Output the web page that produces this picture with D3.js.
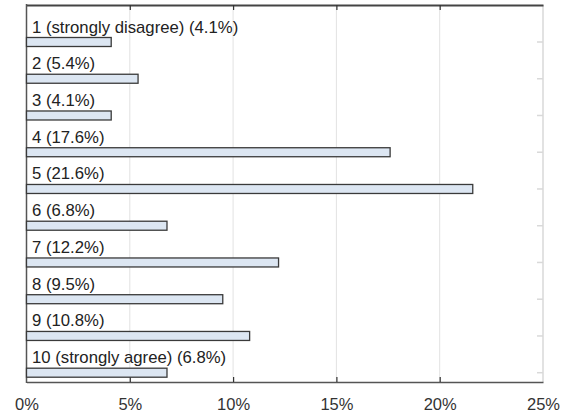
<!DOCTYPE html>
<html>
<head>
<meta charset="utf-8">
<script src="https://cdn.jsdelivr.net/npm/d3@7/dist/d3.min.js"></script>
<style>
  html, body { margin: 0; padding: 0; background: #fff; }
  svg { display: block; }
  text { font-family: "Liberation Sans", Arial, sans-serif; }
</style>
</head>
<body>
<svg id="chart" width="570" height="414"></svg>
<script>
// Survey response distribution (percent of respondents)
const categories = [
  "1 (strongly disagree)", "2", "3", "4", "5",
  "6", "7", "8", "9", "10 (strongly agree)"
];
const percents = [4.1, 5.4, 4.1, 17.6, 21.6, 6.8, 12.2, 9.5, 10.8, 6.8];
const xTicks = [0, 5, 10, 15, 20, 25];

const svg = d3.select("#chart");
const plot = { left: 26.5, right: 543, top: 5, bottom: 382 };

const x = d3.scaleLinear().domain([0, 25]).range([plot.left, plot.right]);
const y = d3.scalePoint().domain(categories).range([42, 372.7]);

// vertical gridlines
svg.append("g")
  .selectAll("line")
  .data(xTicks.slice(1, -1))
  .join("line")
  .attr("x1", d => x(d)).attr("x2", d => x(d))
  .attr("y1", plot.top).attr("y2", plot.bottom)
  .attr("stroke", "#e2e2e2").attr("stroke-width", 1);

// right frame edge (light)
svg.append("line")
  .attr("x1", plot.right).attr("x2", plot.right)
  .attr("y1", plot.top).attr("y2", plot.bottom)
  .attr("stroke", "#d9d9d9").attr("stroke-width", 1.5);

// small category ticks on both sides
const catTicks = svg.append("g");
catTicks.selectAll("line.r")
  .data(categories)
  .join("line").attr("class", "r")
  .attr("x1", plot.right - 6).attr("x2", plot.right)
  .attr("y1", d => y(d)).attr("y2", d => y(d))
  .attr("stroke", "#d9d9d9").attr("stroke-width", 1.5);
catTicks.selectAll("line.l")
  .data(categories)
  .join("line").attr("class", "l")
  .attr("x1", plot.left).attr("x2", plot.left + 4)
  .attr("y1", d => y(d)).attr("y2", d => y(d))
  .attr("stroke", "#d9d9d9").attr("stroke-width", 1.5);

// top and bottom axes with inward ticks
const topAxis = d3.axisTop(x).tickValues(xTicks).tickSizeInner(-5).tickSizeOuter(0).tickFormat("");
const gTop = svg.append("g").attr("transform", `translate(0,${plot.top})`).call(topAxis);
gTop.select(".domain").attr("stroke", "#444").attr("stroke-width", 2);
gTop.selectAll(".tick line").attr("stroke", "#333").attr("stroke-width", 1.2);

const bottomAxis = d3.axisBottom(x).tickValues(xTicks).tickSizeInner(-5).tickSizeOuter(0)
  .tickFormat(d => d + "%");
const gBot = svg.append("g").attr("transform", `translate(0,${plot.bottom})`).call(bottomAxis);
gBot.select(".domain").attr("stroke", "#555").attr("stroke-width", 1.5);
gBot.selectAll(".tick line").attr("stroke", "#333").attr("stroke-width", 1.2);
gBot.selectAll(".tick text")
  .attr("y", 28).attr("dy", 0)
  .attr("fill", "#333")
  .style("font-size", "16.5px")
  .style("font-family", "'Liberation Sans', Arial, sans-serif");
gBot.selectAll(".tick").filter(d => d === 0 || d === 25).select("line").remove();
gTop.selectAll(".tick").filter(d => d === 0 || d === 25).select("line").remove();

// left frame edge
svg.append("line")
  .attr("x1", plot.left).attr("x2", plot.left)
  .attr("y1", plot.top - 1).attr("y2", plot.bottom + 1)
  .attr("stroke", "#555").attr("stroke-width", 1.5);

// bars
svg.append("g")
  .selectAll("rect")
  .data(categories)
  .join("rect")
  .attr("x", plot.left)
  .attr("y", d => y(d) - 4.5)
  .attr("width", (d, i) => x(percents[i]) - x(0))
  .attr("height", 9)
  .attr("fill", "#dce6f2")
  .attr("stroke", "#3a3a3a")
  .attr("stroke-width", 1.3);

// category labels above each bar (slightly widened glyphs)
svg.append("g")
  .selectAll("text")
  .data(categories)
  .join("text")
  .attr("transform", d => `translate(32,${y(d) - 9.5}) scale(1.045,1)`)
  .attr("fill", "#222")
  .style("font-size", "16px")
  .text((d, i) => `${d} (${percents[i]}%)`);
</script>
</body>
</html>
